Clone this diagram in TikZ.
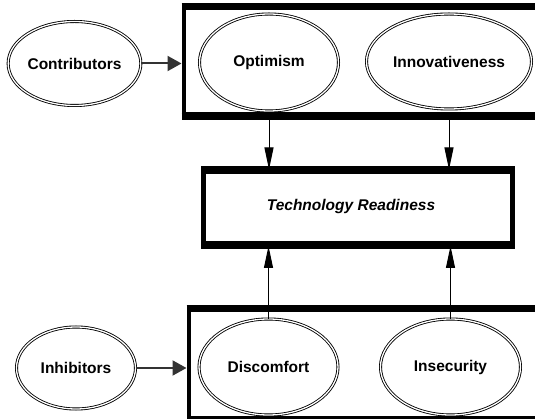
\documentclass[tikz,border=0pt]{standalone}
\usepackage{fontspec}
\setmainfont{Liberation Sans}
\usetikzlibrary{shapes.geometric,arrows.meta}
\tikzset{
  x=1pt, y=-1pt,
  oval/.style={ellipse, draw, line width=0.85pt, double, double distance=1.3pt,
    inner sep=0pt, font=\fontsize{15.5}{18}\selectfont\bfseries},
  groupbox/.style={draw, line width=4pt, inner sep=0pt},
  trbox/.style={draw, line width=5pt, inner sep=0pt},
  hedge/.style={line width=7pt},
  harrow/.style={draw=black!80, line width=2pt, -{Triangle[length=14pt,width=15pt]}},
  varrow/.style={draw, line width=1pt, -{Triangle[length=22pt,width=9pt]}}
}
\begin{document}
\begin{tikzpicture}
\useasboundingbox (0,0) rectangle (535,419);
% group boxes
\node[groupbox, minimum width=380pt, minimum height=106pt] (topbox) at (373.5,61.5) {};
\draw[hedge] (topbox.north west) -- (topbox.north east);
\draw[hedge] (topbox.south west) -- (topbox.south east);
\node[groupbox, minimum width=378pt, minimum height=107pt] (botbox) at (377.5,364) {};
\draw[hedge] (botbox.north west) -- (botbox.north east);
% technology readiness
\node[trbox, minimum width=309pt, minimum height=71.5pt] (tr) at (358,207.75) {};
\draw[hedge] (tr.north west) -- (tr.north east);
\draw[hedge] (tr.south west) -- (tr.south east);
\node[font=\fontsize{15.5}{18}\selectfont\bfseries\itshape] (trtext) at (351,206) {Technology Readiness};
% ellipses
\node[oval, minimum width=118pt, minimum height=84pt] (contrib) at (74.5,63.5) {Contributors};
\node[oval, minimum width=139pt, minimum height=97pt] (opt) at (269,62.5) {Optimism};
\node[oval, minimum width=165pt, minimum height=95pt] (innov) at (449,61.5) {Innovativeness};
\node[oval, minimum width=119pt, minimum height=82pt] (inhib) at (76,368) {Inhibitors};
\node[oval, minimum width=139pt, minimum height=96pt] (disc) at (268.5,367) {Discomfort};
\node[oval, minimum width=140pt, minimum height=96pt] (insec) at (450.5,367) {Insecurity};
% connectors
\draw[harrow] (contrib.east) -- (topbox.west |- contrib.east);
\draw[harrow] (inhib.east) -- (botbox.west |- inhib.east);
\draw[varrow] (opt.south |- topbox.south) -- (opt.south |- tr.north);
\draw[varrow] (innov.south |- topbox.south) -- (innov.south |- tr.north);
\draw[varrow] (disc.north) -- (disc.north |- tr.south);
\draw[varrow] (insec.north) -- (insec.north |- tr.south);
\end{tikzpicture}
\end{document}
